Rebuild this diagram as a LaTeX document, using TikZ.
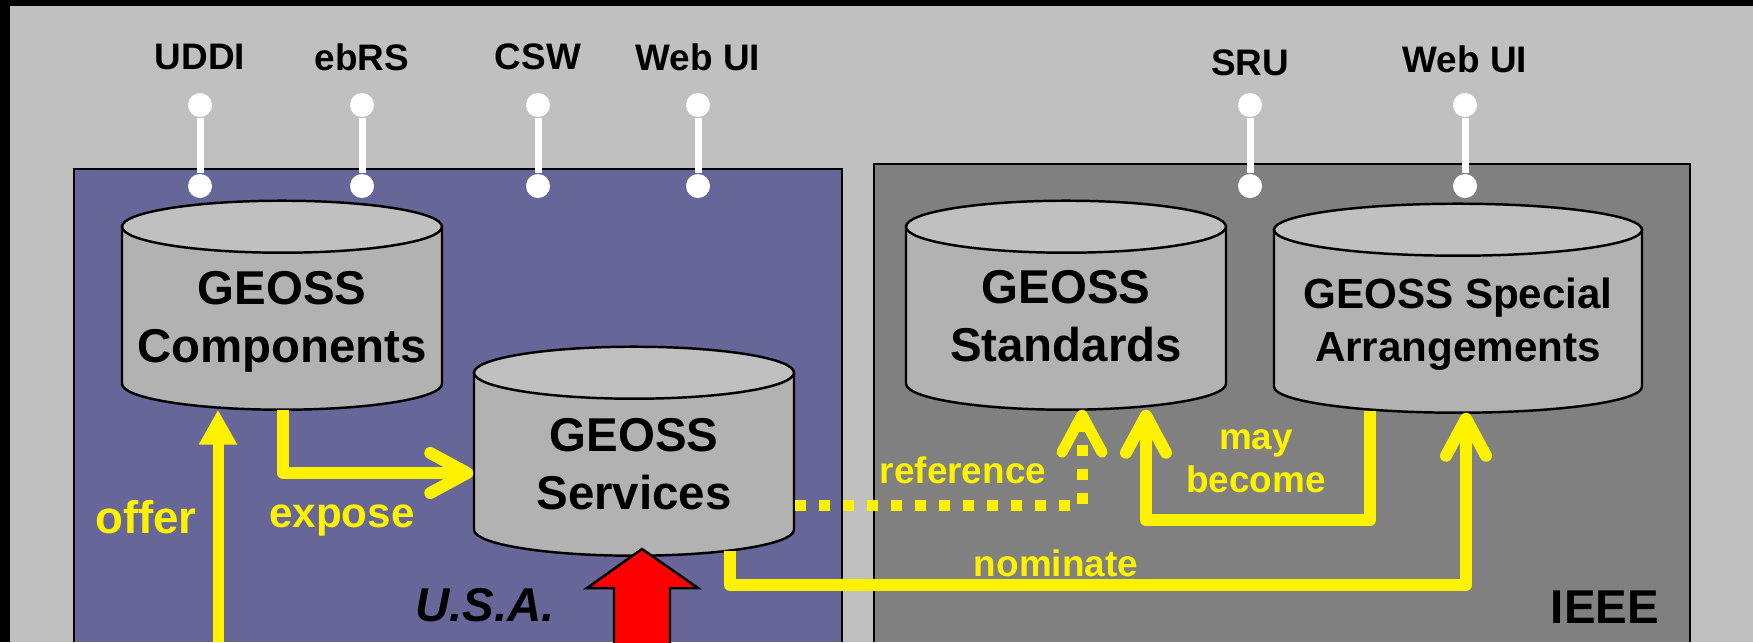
\documentclass[tikz,border=0pt]{standalone}
\usepackage{fontspec}
\setmainfont{Liberation Sans}
\usetikzlibrary{arrows.meta,positioning,backgrounds}
\definecolor{slide}{HTML}{C0C0C0}
\definecolor{usabox}{HTML}{666699}
\definecolor{ieeebox}{HTML}{808080}
\definecolor{dbtop}{HTML}{C0C0C0}
\definecolor{dbbody}{HTML}{B2B2B2}

% cylinder drawn round a registry node: #1 node, #2 half width (px)
\newcommand\drum[2]{%
  \filldraw[fill=dbbody,line width=0.7pt] (#1.south) ++(-#2,-26) -- ++(0,-157) -- ++(2*#2,0) -- ++(0,157)
    arc[start angle=0,end angle=-180,x radius=#2*0.1mm,y radius=2.6mm] -- cycle;
  \filldraw[fill=dbtop,line width=0.7pt] (#1.south) ++(0,-183) ellipse[x radius=#2*0.1mm,y radius=2.6mm];}

\begin{document}
\begin{tikzpicture}[x=0.1mm,y=-0.1mm,node distance=8.1mm,on grid,
  db/.style={align=center,minimum width=32mm,minimum height=17.5mm,
    font=\fontsize{13.5}{16.5}\selectfont\bfseries},
  port/.style={circle,fill=white,inner sep=0pt,minimum size=2.4mm},
  portname/.style={font=\fontsize{10.5}{12}\selectfont\bfseries},
  wire/.style={white,line width=0.7mm},
  flow/.style={yellow,line width=1.2mm,line join=round},
  vee/.style={-{Straight Barb[length=3.7mm,width=4mm,round]}},
  flowtext/.style={text=yellow,align=center,font=\fontsize{10.5}{12.2}\selectfont\bfseries},
  owner/.style={font=\fontsize{13.5}{16}\selectfont\bfseries}]
\useasboundingbox (0,0) rectangle (1753,642);

% the two catalogues
\begin{scope}[on background layer]
\fill[black] (0,0) rectangle (1753,642);
\fill[slide] (10,6) rectangle (1753,642);
\draw[fill=usabox,line width=0.6pt] (74,642) |- (842,169) -- (842,642);
\draw[fill=ieeebox,line width=0.6pt] (874,642) |- (1690,164) -- (1690,642);
\end{scope}

% interfaces
\node[port] (uddi) at (200,186) {};
\node[port,above=of uddi] (uddi top) {};
\node[portname,above=4.8mm of uddi top] (uddi name) {UDDI};
\draw[wire] (uddi) -- (uddi top);

\node[port] (ebrs) at (362,186) {};
\node[port,above=of ebrs] (ebrs top) {};
\node[portname,above=4.8mm of ebrs top] (ebrs name) {ebRS};
\draw[wire] (ebrs) -- (ebrs top);

\node[port] (csw) at (538,186) {};
\node[port,above=of csw] (csw top) {};
\node[portname,above=4.8mm of csw top] (csw name) {CSW};
\draw[wire] (csw) -- (csw top);

\node[port] (webui) at (698,186) {};
\node[port,above=of webui] (webui top) {};
\node[portname,above=4.8mm of webui top] (webui name) {Web UI};
\draw[wire] (webui) -- (webui top);

\node[port] (sru) at (1250,186) {};
\node[port,above=of sru] (sru top) {};
\node[portname,above=4.2mm of sru top] (sru name) {SRU};
\draw[wire] (sru) -- (sru top);

\node[port] (ieeeui) at (1465,186) {};
\node[port,above=of ieeeui] (ieeeui top) {};
\node[portname,above=4.6mm of ieeeui top] (ieeeui name) {Web UI};
\draw[wire] (ieeeui) -- (ieeeui top);

% registries
\node[db] (comp) at (282,321.5) {GEOSS\\Components};
\node[db,minimum height=18.2mm] (serv) at (634,464) {GEOSS\\Services};
\node[db,minimum height=18.5mm] (std) at (1066,316.5) {GEOSS\\Standards};
\node[db,minimum width=36.8mm,font=\fontsize{12}{15}\selectfont\bfseries]
  (spec) at (1458,324.5) {GEOSS Special\\Arrangements};
\begin{scope}[on background layer]
\drum{comp}{160}
\drum{serv}{160}
\drum{std}{160}
\drum{spec}{184}
\end{scope}

% offer
\coordinate (offer in) at (218,642);
\draw[flow,line width=1.1mm,-{Triangle[length=3.5mm,width=3.6mm]}] (offer in) -- (offer in |- comp.south);
\node[flowtext,font=\fontsize{13}{15}\selectfont\bfseries] (offer) at (146,517) {offer};

% expose
\coordinate (expose bend) at (283,473);
\draw[flow,vee] (comp.south -| expose bend) -- (expose bend) -- (serv.west |- expose bend);
\node[flowtext,font=\fontsize{12}{14}\selectfont\bfseries] (expose) at (342,520) {expose};

% reference
\coordinate (ref bend) at (1082,505);
\draw[flow,line width=1.1mm,dash pattern=on 1.1mm off 1.3mm,vee] (serv.east |- ref bend) -- (ref bend) -- (std.south -| ref bend);
\node[flowtext] (reference) at (963,470) {reference};

% may become
\coordinate (may right) at (1370,520);
\coordinate (may left) at (1146,520);
\draw[flow,vee,shorten <=-0.2mm] (spec.south -| may right) -- (may right) -- (may left) -- (std.south -| may left);
\node[flowtext] (may) at (1256,461) {may\\become};

% nominate
\coordinate (nom left) at (730,585);
\coordinate (nom right) at (1466,585);
\draw[flow,vee,shorten <=-0.5mm] (serv.south -| nom left) -- (nom left) -- (nom right) -- (spec.south -| nom right);
\node[flowtext] (nominate) at (1056,563) {nominate};

% submission
\coordinate (usa tip) at (642,549);
\draw[fill=red,line width=0.7pt] (usa tip) -- ++(56,39) -- ++(-28,0) -- ++(0,72) -- ++(-56,0) -- ++(0,-72) -- ++(-27,0) -- cycle;

\node[owner,font=\fontsize{13.5}{16}\selectfont\bfseries\itshape] (usa) at (485,605) {U.S.A.};
\node[owner] (ieee) at (1605,607) {IEEE};
\end{tikzpicture}
\end{document}
